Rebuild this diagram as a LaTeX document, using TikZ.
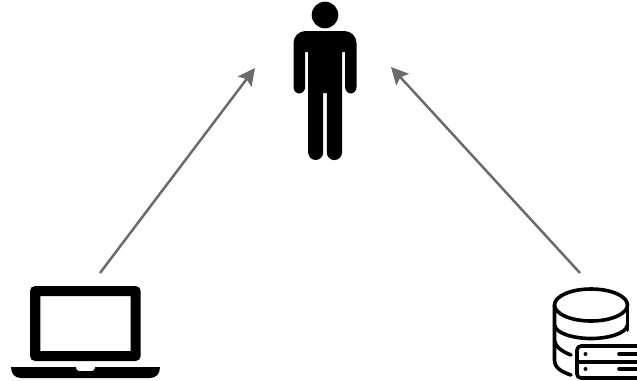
\documentclass[tikz,border=0pt]{standalone}
\usetikzlibrary{arrows.meta}
\begin{document}
\begin{tikzpicture}[
    x=0.02cm, y=-0.02cm,
    arrow/.style={-{Stealth[length=0.34cm, width=0.34cm, inset=0.06cm]}, line width=0.05cm, draw=black!58, fill=black!58},
    icon/.style={fill=black, draw=none},
    dbline/.style={draw=black, line width=0.072cm, line cap=round}
]
    \useasboundingbox (0,0) rectangle (637,380);

    % Anker
    \coordinate (laptop) at (100,273);
    \coordinate (database) at (580,273);
    \coordinate (personleft) at (255,68);
    \coordinate (personright) at (391,67);

    % Person
    \fill[icon] (325,15) circle (13.3);
    \fill[icon] (293.5,43) arc (180:270:12) -- (344.5,31) arc (270:360:12)
        -- (356.5,87) arc (0:180:5.7 and 6.5) -- (345,52) -- (342,52)
        -- (342,152.5) arc (0:180:7.6) -- (326.8,93) -- (323.2,93)
        -- (323.2,152.5) arc (0:180:7.5) -- (308.2,52) -- (305.1,52)
        -- (305.1,87) arc (0:180:5.8 and 6.5) -- cycle;

    % Laptop
    \fill[icon, even odd rule, rounded corners=0.1cm] (30,361) -- (30,286) -- (140.7,286) -- (140.7,361) -- cycle
        [sharp corners] (40.3,296) rectangle (130.7,351);
    \fill[icon] (11,367) -- (76,367) -- (76,368) arc (180:90:3) -- (92,371) arc (90:0:3) -- (95,367) -- (160,367)
        .. controls (160,374) and (156,378) .. (150,378) -- (21,378) .. controls (15,378) and (11,374) .. (11,367) -- cycle;

    % Datenbank
    \begin{scope}
        \clip (530,280) rectangle (637,380);
        \draw[dbline] (591,305) ellipse (36.5 and 16);
        \draw[dbline] (554.5,305) -- (554.5,360) .. controls (554.5,368) and (562,372) .. (571,375);
        \draw[dbline] (627.5,305) -- (627.5,330);
        \draw[dbline] (554.5,325) .. controls (556,334) and (575,338.5) .. (591,338.5) .. controls (607,338.5) and (626,334) .. (627.5,325);
        \draw[dbline] (554.5,341) .. controls (555.5,347) and (563,352) .. (571,355);
        \draw[dbline, rounded corners=0.08cm] (650,346) -- (577,346) -- (577,378) -- (650,378);
        \draw[dbline, rounded corners=0.08cm] (650,362) -- (577,362);
        \fill[icon] (585.5,354) circle (2);
        \fill[icon] (585.5,369) circle (2);
        \draw[dbline] (619,354) -- (650,354);
        \draw[dbline] (619,369) -- (650,369);
    \end{scope}

    % Pfeile
    \draw[arrow] (laptop) -- (personleft);
    \draw[arrow] (database) -- (personright);
\end{tikzpicture}
\end{document}
